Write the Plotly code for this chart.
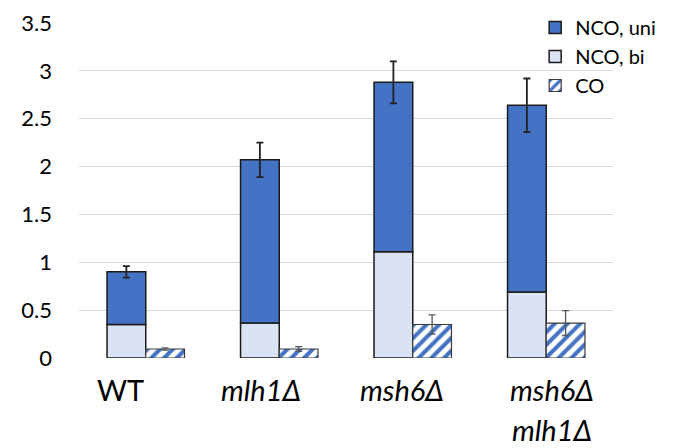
import plotly.graph_objects as go

categories = ["WT", "mlh1Δ", "msh6Δ", "msh6Δ mlh1Δ"]
label_line1 = ["WT", "<i>mlh1Δ</i>", "<i>msh6Δ</i>", "<i>msh6Δ</i>"]
label_line2 = ["", "", "", "<i>mlh1Δ</i>"]
nco_bi = [0.35, 0.365, 1.11, 0.69]
nco_uni = [0.55, 1.705, 1.77, 1.95]
nco_err = [0.06, 0.18, 0.22, 0.28]
co = [0.094, 0.094, 0.35, 0.365]
co_err = [0.012, 0.025, 0.10, 0.13]
y_ticks = [0, 0.5, 1, 1.5, 2, 2.5, 3, 3.5]
y_ticktext = ["0", "0.5", "1", "1.5", "2", "2.5", "3", "3.5"]

FONT = "Lato"
BW = 0.29

fig = go.Figure()
fig.add_trace(go.Bar(
    x=categories, y=nco_bi, name="NCO, bi", legendrank=2,
    width=BW, offset=-BW,
    marker=dict(color="#DAE3F3", line=dict(color="#1a1a1a", width=1.5)),
))
fig.add_trace(go.Bar(
    x=categories, y=nco_uni, base=nco_bi, name="NCO, uni", legendrank=1,
    width=BW, offset=-BW,
    marker=dict(color="#4472C4", line=dict(color="#1a1a1a", width=1.5)),
    error_y=dict(type="data", array=nco_err, color="#222222", thickness=1.8, width=3.5),
))
fig.add_trace(go.Bar(
    x=categories, y=co, name="CO", legendrank=3,
    width=BW, offset=0,
    marker=dict(color="white", line=dict(color="#3a3a3a", width=1.2),
                pattern=dict(shape="/", fgcolor="#4472C4", bgcolor="white",
                             size=9, solidity=0.45, fillmode="replace")),
    error_y=dict(type="data", array=co_err, color="#555555", thickness=1.3, width=3.5),
))

annotations = []
shifts = [-25, -18, -11, 6]
for c, t1, t2, s in zip(categories, label_line1, label_line2, shifts):
    annotations.append(dict(x=c, xref="x", y=0, yref="paper", yanchor="middle",
                            yshift=-31, xshift=s, text=t1, showarrow=False,
                            font=dict(family=FONT, size=29, color="black")))
    if t2:
        annotations.append(dict(x=c, xref="x", y=0, yref="paper", yanchor="middle",
                                yshift=-71, xshift=s, text=t2, showarrow=False,
                                font=dict(family=FONT, size=29, color="black")))

fig.update_layout(
    width=675, height=440,
    margin=dict(l=71, r=70, t=15, b=90, autoexpand=False),
    barmode="overlay",
    plot_bgcolor="white", paper_bgcolor="white",
    font=dict(family=FONT, color="black"),
    showlegend=True,
    legend=dict(xref="container", yref="container", x=0.781, y=1.015,
                xanchor="left", yanchor="top",
                font=dict(family=FONT, size=20, color="black"),
                bgcolor="rgba(255,255,255,0)", tracegroupgap=0),
    xaxis=dict(showticklabels=False, showgrid=False, zeroline=False, showline=False,
               range=[-0.5, 3.5]),
    yaxis=dict(range=[0, 3.5], tickvals=y_ticks, ticktext=y_ticktext,
               showgrid=True, gridcolor="#D9D9D9", gridwidth=1,
               zeroline=False, showline=False, ticks="",
               ticklabelstandoff=26,
               tickfont=dict(family=FONT, size=22, color="black")),
    annotations=annotations,
)

fig.write_html("out.html")
